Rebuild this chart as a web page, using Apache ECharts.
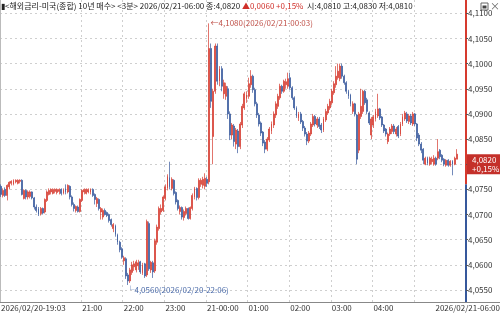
<!DOCTYPE html>
<html><head><meta charset="utf-8">
<script src="https://cdn.jsdelivr.net/npm/echarts@6/dist/echarts.min.js"></script>
<style>html,body{margin:0;padding:0;background:#fff}#c{width:500px;height:314px}</style>
</head><body><div id="c"></div><script>
// ---- data ----
const startTime = '2026/02/20-19:03';
const stepMinutes = 3;
const prevClose = 4.0760;
const lastClose = 4.0820;
const openLast = 4.0810, highLast = 4.0830, lowLast = 4.0810;
const tickIdx = [0, 39, 59, 79, 99, 119, 139, 159, 179, 199];
const tickLabels = ['2026/02/20-19:03','21:00','22:00','23:00','21-00:00','01:00','02:00','03:00','04:00','05:00'];
const lastTickLabel = '2026/02/21-06:00';
const yMin = 4.0550, yMax = 4.1100, yInt = 0.0050;
// [open, close, low, high]
const ohlc = [
[4.0756,4.0740,4.0735,4.0760],[4.0738,4.0748,4.0734,4.0752],[4.0750,4.0738,4.0735,4.0754],[4.0738,4.0758,4.0728,4.0760],
[4.0755,4.0764,4.0750,4.0766],[4.0762,4.0766,4.0758,4.0768],[4.0760,4.0768,4.0758,4.0770],[4.0765,4.0768,4.0762,4.0770],
[4.0762,4.0768,4.0760,4.0770],[4.0766,4.0768,4.0762,4.0770],[4.0768,4.0740,4.0738,4.0770],[4.0732,4.0748,4.0730,4.0750],
[4.0748,4.0735,4.0730,4.0750],[4.0735,4.0745,4.0730,4.0748],[4.0736,4.0745,4.0732,4.0748],[4.0745,4.0733,4.0730,4.0746],
[4.0733,4.0715,4.0710,4.0735],[4.0715,4.0708,4.0704,4.0720],[4.0712,4.0700,4.0697,4.0715],[4.0702,4.0712,4.0698,4.0715],
[4.0712,4.0703,4.0700,4.0714],[4.0705,4.0730,4.0702,4.0732],[4.0728,4.0745,4.0725,4.0748],[4.0740,4.0748,4.0738,4.0752],
[4.0745,4.0750,4.0740,4.0752],[4.0742,4.0750,4.0740,4.0752],[4.0746,4.0750,4.0742,4.0752],[4.0744,4.0750,4.0740,4.0752],
[4.0746,4.0750,4.0740,4.0752],[4.0750,4.0742,4.0738,4.0752],[4.0742,4.0750,4.0740,4.0752],[4.0752,4.0745,4.0740,4.0760],
[4.0745,4.0758,4.0742,4.0760],[4.0756,4.0735,4.0730,4.0758],[4.0735,4.0720,4.0716,4.0738],[4.0720,4.0712,4.0706,4.0724],
[4.0708,4.0716,4.0704,4.0718],[4.0715,4.0706,4.0704,4.0718],[4.0706,4.0730,4.0704,4.0732],[4.0728,4.0748,4.0725,4.0750],
[4.0745,4.0750,4.0740,4.0752],[4.0742,4.0750,4.0740,4.0752],[4.0745,4.0750,4.0742,4.0752],[4.0744,4.0750,4.0740,4.0752],
[4.0750,4.0738,4.0735,4.0752],[4.0740,4.0730,4.0720,4.0742],[4.0722,4.0732,4.0715,4.0735],[4.0730,4.0712,4.0708,4.0732],
[4.0705,4.0712,4.0690,4.0715],[4.0695,4.0708,4.0690,4.0712],[4.0708,4.0700,4.0698,4.0712],[4.0704,4.0698,4.0695,4.0706],
[4.0700,4.0688,4.0684,4.0702],[4.0690,4.0680,4.0676,4.0692],[4.0672,4.0680,4.0665,4.0683],[4.0678,4.0660,4.0656,4.0680],
[4.0660,4.0645,4.0640,4.0662],[4.0645,4.0630,4.0625,4.0648],[4.0632,4.0615,4.0612,4.0635],[4.0608,4.0614,4.0600,4.0618],
[4.0612,4.0578,4.0572,4.0615],[4.0580,4.0568,4.0560,4.0584],[4.0568,4.0590,4.0564,4.0594],[4.0585,4.0600,4.0580,4.0606],
[4.0596,4.0602,4.0588,4.0608],[4.0590,4.0606,4.0585,4.0610],[4.0598,4.0604,4.0590,4.0610],[4.0606,4.0586,4.0582,4.0608],
[4.0584,4.0600,4.0580,4.0604],[4.0602,4.0578,4.0574,4.0604],[4.0580,4.0686,4.0576,4.0690],[4.0682,4.0592,4.0588,4.0686],
[4.0590,4.0605,4.0584,4.0608],[4.0604,4.0586,4.0574,4.0608],[4.0588,4.0648,4.0584,4.0652],[4.0645,4.0675,4.0640,4.0680],
[4.0672,4.0712,4.0668,4.0716],[4.0705,4.0712,4.0700,4.0720],[4.0708,4.0735,4.0705,4.0738],[4.0732,4.0755,4.0728,4.0760],
[4.0752,4.0776,4.0748,4.0780],[4.0774,4.0755,4.0750,4.0805],[4.0752,4.0770,4.0748,4.0774],[4.0768,4.0742,4.0738,4.0770],
[4.0744,4.0725,4.0720,4.0746],[4.0728,4.0712,4.0708,4.0730],[4.0706,4.0714,4.0700,4.0718],[4.0714,4.0695,4.0690,4.0716],
[4.0694,4.0706,4.0688,4.0710],[4.0702,4.0712,4.0698,4.0716],[4.0712,4.0692,4.0690,4.0714],[4.0692,4.0714,4.0690,4.0716],
[4.0712,4.0738,4.0708,4.0742],[4.0735,4.0752,4.0730,4.0755],[4.0752,4.0734,4.0728,4.0754],[4.0734,4.0768,4.0730,4.0772],
[4.0760,4.0768,4.0755,4.0772],[4.0758,4.0770,4.0752,4.0775],[4.0756,4.0772,4.0750,4.0782],[4.0770,4.0762,4.0755,4.0775],
[4.0765,4.1030,4.0760,4.1080],[4.1030,4.0925,4.0912,4.1040],[4.0855,4.0945,4.0800,4.0950],[4.0945,4.1035,4.0940,4.1040],
[4.1035,4.0965,4.0958,4.1040],[4.0965,4.0990,4.0955,4.0995],[4.0990,4.0955,4.0945,4.0995],[4.0940,4.0962,4.0930,4.0968],
[4.0935,4.0955,4.0928,4.0962],[4.0950,4.0900,4.0890,4.0955],[4.0900,4.0858,4.0848,4.0905],[4.0858,4.0878,4.0850,4.0882],
[4.0876,4.0845,4.0835,4.0880],[4.0840,4.0868,4.0830,4.0872],[4.0866,4.0835,4.0822,4.0870],[4.0835,4.0880,4.0830,4.0884],
[4.0878,4.0915,4.0872,4.0920],[4.0912,4.0940,4.0908,4.0944],[4.0930,4.0938,4.0922,4.0945],[4.0935,4.0960,4.0930,4.0972],
[4.0958,4.0975,4.0952,4.0987],[4.0975,4.0948,4.0942,4.0978],[4.0948,4.0920,4.0915,4.0952],[4.0920,4.0898,4.0892,4.0924],
[4.0898,4.0880,4.0875,4.0902],[4.0882,4.0862,4.0856,4.0885],[4.0864,4.0842,4.0836,4.0866],[4.0844,4.0830,4.0822,4.0848],
[4.0830,4.0850,4.0826,4.0854],[4.0848,4.0870,4.0844,4.0874],[4.0866,4.0880,4.0860,4.0885],[4.0878,4.0900,4.0872,4.0905],
[4.0898,4.0920,4.0892,4.0925],[4.0915,4.0935,4.0910,4.0940],[4.0932,4.0955,4.0928,4.0960],[4.0955,4.0945,4.0940,4.0958],
[4.0945,4.0965,4.0942,4.0968],[4.0958,4.0964,4.0950,4.0970],[4.0955,4.0970,4.0950,4.0982],[4.0972,4.0952,4.0948,4.0982],
[4.0952,4.0932,4.0928,4.0955],[4.0932,4.0912,4.0908,4.0935],[4.0912,4.0896,4.0892,4.0915],[4.0892,4.0900,4.0886,4.0904],
[4.0900,4.0884,4.0880,4.0904],[4.0885,4.0872,4.0866,4.0888],[4.0872,4.0860,4.0855,4.0876],[4.0860,4.0846,4.0838,4.0864],
[4.0846,4.0862,4.0842,4.0866],[4.0860,4.0880,4.0856,4.0884],[4.0878,4.0895,4.0874,4.0900],[4.0895,4.0880,4.0875,4.0898],
[4.0878,4.0890,4.0872,4.0894],[4.0890,4.0875,4.0870,4.0894],[4.0878,4.0868,4.0862,4.0882],[4.0868,4.0890,4.0864,4.0894],
[4.0888,4.0905,4.0884,4.0910],[4.0902,4.0915,4.0898,4.0920],[4.0912,4.0925,4.0908,4.0930],[4.0922,4.0945,4.0918,4.0950],
[4.0942,4.0960,4.0938,4.0965],[4.0958,4.0975,4.0952,4.0995],[4.0972,4.0985,4.0968,4.1000],[4.0970,4.0995,4.0965,4.1000],
[4.0995,4.0975,4.0970,4.1000],[4.0975,4.0962,4.0958,4.0978],[4.0962,4.0945,4.0940,4.0965],[4.0945,4.0935,4.0930,4.0948],
[4.0938,4.0920,4.0915,4.0940],[4.0905,4.0920,4.0900,4.0925],[4.0920,4.0900,4.0895,4.0922],[4.0898,4.0810,4.0800,4.0900],
[4.0828,4.0900,4.0822,4.0904],[4.0895,4.0915,4.0890,4.0950],[4.0905,4.0945,4.0900,4.0948],[4.0945,4.0922,4.0918,4.0948],
[4.0928,4.0905,4.0900,4.0932],[4.0902,4.0882,4.0878,4.0905],[4.0858,4.0890,4.0850,4.0894],[4.0878,4.0894,4.0872,4.0898],
[4.0890,4.0905,4.0885,4.0910],[4.0896,4.0910,4.0892,4.0940],[4.0910,4.0892,4.0888,4.0912],[4.0894,4.0878,4.0874,4.0896],
[4.0878,4.0866,4.0862,4.0880],[4.0870,4.0860,4.0855,4.0872],[4.0845,4.0860,4.0840,4.0863],[4.0860,4.0870,4.0856,4.0874],
[4.0865,4.0876,4.0860,4.0880],[4.0876,4.0865,4.0860,4.0880],[4.0860,4.0870,4.0855,4.0874],[4.0875,4.0856,4.0852,4.0878],
[4.0860,4.0880,4.0856,4.0884],[4.0880,4.0895,4.0876,4.0900],[4.0890,4.0902,4.0886,4.0906],[4.0900,4.0886,4.0882,4.0904],
[4.0885,4.0896,4.0880,4.0900],[4.0896,4.0882,4.0878,4.0900],[4.0880,4.0900,4.0876,4.0904],[4.0900,4.0880,4.0876,4.0902],
[4.0880,4.0852,4.0846,4.0882],[4.0858,4.0840,4.0836,4.0862],[4.0840,4.0828,4.0822,4.0844],[4.0830,4.0808,4.0800,4.0832],
[4.0800,4.0812,4.0798,4.0815],[4.0812,4.0802,4.0798,4.0815],[4.0800,4.0812,4.0797,4.0815],[4.0805,4.0810,4.0800,4.0815],
[4.0800,4.0812,4.0797,4.0818],[4.0812,4.0800,4.0797,4.0815],[4.0812,4.0825,4.0808,4.0850],[4.0828,4.0815,4.0810,4.0830],
[4.0818,4.0808,4.0804,4.0820],[4.0810,4.0800,4.0796,4.0812],[4.0798,4.0808,4.0795,4.0810],[4.0808,4.0798,4.0795,4.0810],
[4.0798,4.0806,4.0795,4.0808],[4.0806,4.0800,4.0778,4.0808],[4.0800,4.0812,4.0798,4.0815],[4.0810,4.0820,4.0810,4.0830]
];
const emptySlots = 4;

// ---- build ----
function pad(n){return (n<10?'0':'')+n;}
const categories = [];
(function(){
  const p = startTime.match(/(\d+)\/(\d+)\/(\d+)-(\d+):(\d+)/);
  const d = new Date(+p[1], +p[2]-1, +p[3], +p[4], +p[5]);
  for (let i = 0; i < ohlc.length + emptySlots; i++) {
    categories.push(d.getFullYear()+'/'+pad(d.getMonth()+1)+'/'+pad(d.getDate())+'-'+pad(d.getHours())+':'+pad(d.getMinutes()));
    d.setMinutes(d.getMinutes()+stepMinutes);
  }
})();
const fmt = v => v.toFixed(4).replace('.', ',');
let maxI = 0, minI = 0;
ohlc.forEach((r,i)=>{ if (r[3] > ohlc[maxI][3]) maxI = i; if (r[2] < ohlc[minI][2]) minI = i; });
const chg = lastClose - prevClose;
const chgPctTxt = (chg >= 0 ? '+' : '') + (chg / prevClose * 100).toFixed(2).replace('.', ',') + '%';

const UP = '#d63a2e', DOWN = '#36589c';
const FONT = 'Noto Sans CJK KR';
const GRID_R = 34, XAXIS_Y = 302;
const G_TOP = 13.3, G_BOTTOM_Y = 290;

const chart = echarts.init(document.getElementById('c'), null, {renderer:'canvas'});
const option = {
  animation: false,
  backgroundColor: '#fff',
  textStyle: {fontFamily: FONT},
  grid: [
    {left: 0, right: GRID_R, top: G_TOP, height: G_BOTTOM_Y - G_TOP, outerBoundsMode: 'none', containLabel: false},
    {left: 0, right: GRID_R, top: 0, height: XAXIS_Y, outerBoundsMode: 'none', containLabel: false}
  ],
  xAxis: [
    {type: 'category', gridIndex: 0, data: categories, boundaryGap: true, show: false},
    {type: 'category', gridIndex: 1, data: categories, boundaryGap: true,
      axisLine: {show: false}, axisTick: {show: false},
      axisLabel: {interval: (i) => tickIdx.includes(i), formatter: (v, i) => tickLabels[tickIdx.indexOf(i)] || '',
        align: 'left', fontSize: 8, color: '#333', margin: 2, fontFamily: FONT, showMaxLabel: false, showMinLabel: true},
      splitLine: {show: true, interval: (i) => tickIdx.includes(i) && i > 0, lineStyle: {color: '#cfcfcf', type: [2, 3], width: 1}}
    }
  ],
  yAxis: [
    {type: 'value', gridIndex: 0, position: 'right', min: yMin, max: yMax, interval: yInt,
      axisLine: {show: false},
      axisTick: {show: true, length: 2, lineStyle: {color: '#555'}},
      axisLabel: {formatter: fmt, fontSize: 8, color: '#333', margin: 2, fontFamily: FONT, showMinLabel: true, showMaxLabel: true, hideOverlap: false},
      splitLine: {show: true, lineStyle: {color: '#cfcfcf', type: [2, 3], width: 1}}
    },
    {type: 'value', gridIndex: 1, show: false}
  ],
  series: [{
    type: 'candlestick', xAxisIndex: 0, yAxisIndex: 0, clip: false,
    data: ohlc, barWidth: 1.4,
    itemStyle: {color: UP, color0: DOWN, borderColor: UP, borderColor0: DOWN, borderWidth: 0.7},
    markPoint: {
      symbol: 'circle', symbolSize: 1, itemStyle: {color: 'rgba(0,0,0,0)'},
      data: [
        {coord: [maxI, ohlc[maxI][3]], label: {show: true, position: 'right', distance: 1,
          formatter: '←' + fmt(ohlc[maxI][3]) + '(' + categories[maxI] + ')', color: '#c0524a', fontSize: 8, fontFamily: FONT}},
        {coord: [minI, ohlc[minI][2]], label: {show: true, position: [-1, 1], align: 'left', verticalAlign: 'top',
          formatter: '└' + fmt(ohlc[minI][2]) + '(' + categories[minI] + ')', color: '#4a6aa8', fontSize: 8, fontFamily: FONT}}
      ]
    },
    markLine: {
      silent: true, symbol: 'none',
      lineStyle: {color: 'rgba(0,0,0,0)', width: 1, type: 'solid'},
      data: [{yAxis: lastClose}],
      label: {show: true, position: 'end', distance: 1,
        formatter: fmt(lastClose) + '\n' + chgPctTxt,
        backgroundColor: '#c4302a', color: '#fff', fontSize: 8, lineHeight: 9, padding: [1, 3, 1, 5], fontFamily: FONT}
    }
  }]
};
chart.setOption(option);

const yPrev = chart.convertToPixel({yAxisIndex: 0}, prevClose);
const axX = 500 - GRID_R;
chart.setOption({
  graphic: [
    {type: 'line', shape: {x1: 0.5, y1: 0, x2: 0.5, y2: XAXIS_Y}, style: {stroke: '#bbb', lineWidth: 1}},
    {type: 'line', shape: {x1: 0, y1: XAXIS_Y + 0.5, x2: 500, y2: XAXIS_Y + 0.5}, style: {stroke: '#888', lineWidth: 1}},
    {type: 'line', shape: {x1: axX, y1: 0, x2: axX, y2: yPrev}, style: {stroke: UP, lineWidth: 2}},
    {type: 'line', shape: {x1: axX, y1: yPrev, x2: axX, y2: XAXIS_Y}, style: {stroke: DOWN, lineWidth: 2}},
    {type: 'text', right: 0, top: XAXIS_Y + 2, style: {text: lastTickLabel, fontSize: 8, fill: '#333', fontFamily: FONT}},
    {type: 'text', left: 1, top: 2, style: {
      text: '{k|▮<해외금리-미국(종합) 10년 매수> <3분> 2026/02/21-06:00 종:' + fmt(lastClose) + ' }{r|▲' + fmt(chg) + ' ' + chgPctTxt + ' }{k| 시:' + fmt(openLast) + ' 고:' + fmt(highLast) + ' 저:' + fmt(lowLast) + '}',
      rich: {k: {fontSize: 8, fill: '#222', fontFamily: FONT}, r: {fontSize: 8, fill: '#d0302a', fontFamily: FONT}}
    }},
    {type: 'rect', shape: {x: 481, y: 3, width: 7, height: 7}, style: {fill: '#fff', stroke: '#666', lineWidth: 1}},
    {type: 'rect', shape: {x: 482.5, y: 5.5, width: 4, height: 3}, style: {fill: '#444'}},
    {type: 'text', left: 490, top: 1, style: {text: '×', fontSize: 10, fill: '#666', fontFamily: FONT}}
  ]
});
</script></body></html>
